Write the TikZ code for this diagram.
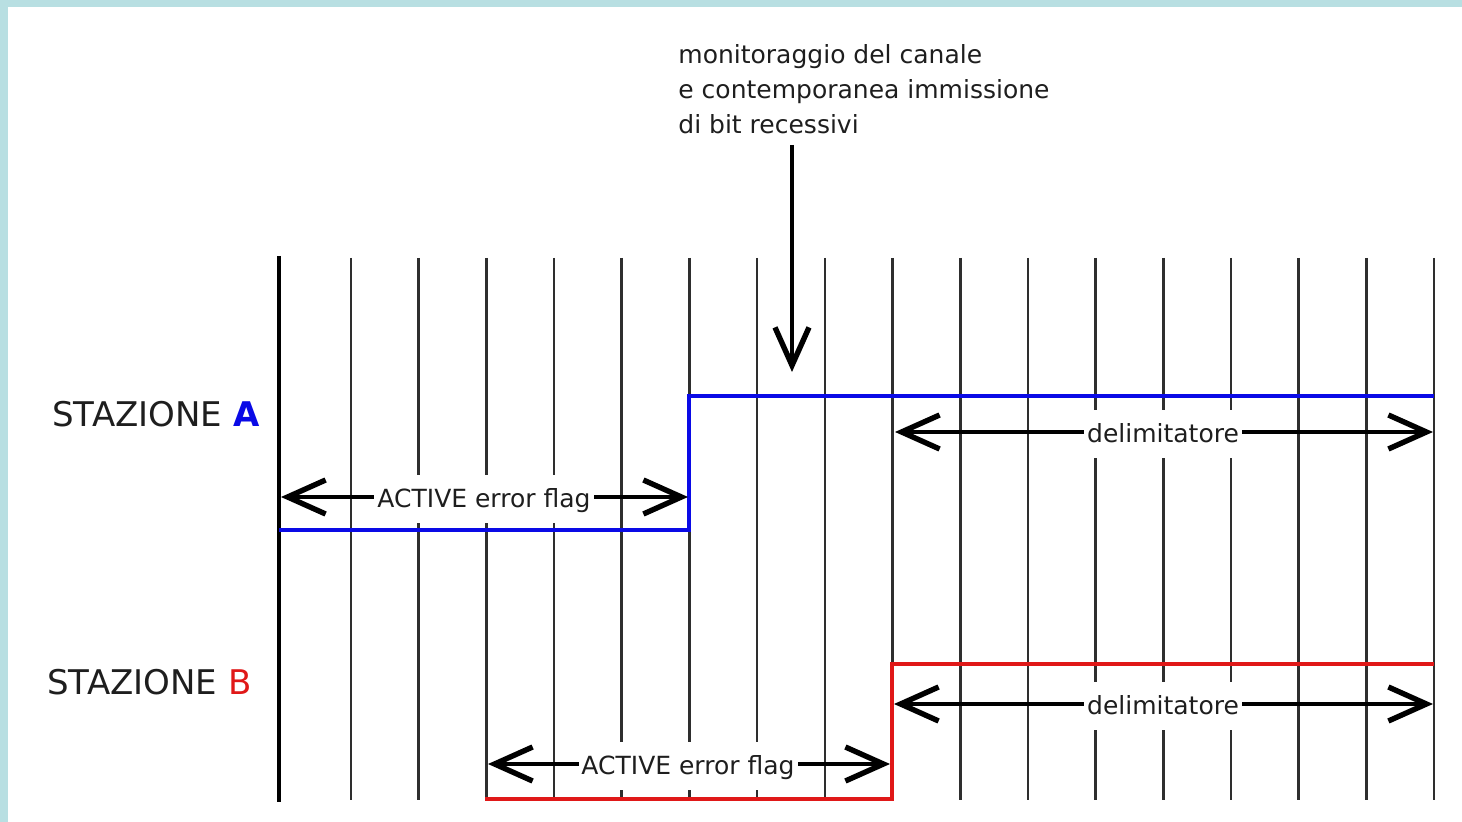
\documentclass[tikz,border=0pt]{standalone}
\usepackage{fontspec}
\setmainfont{DejaVu Sans}
\usetikzlibrary{arrows.meta}
\definecolor{framecol}{HTML}{B8DFE2}
\definecolor{sigA}{HTML}{0A0AE6}
\definecolor{sigB}{HTML}{E01818}
\definecolor{gridcol}{HTML}{2E2E2E}
\definecolor{txtcol}{HTML}{1E1E1E}
\begin{document}
\begin{tikzpicture}[x=0.5pt,y=-0.5pt,
  gridline/.style={draw=gridcol, line width=1.3pt},
  firstline/.style={draw=black, line width=2pt},
  sigline/.style={line width=2pt},
  barb/.tip={Straight Barb[length=19pt,width=17pt,line width=2.7pt]},
  dimarrow/.style={line width=2pt, draw=black, barb-barb},
  notearrow/.style={line width=2pt, draw=black, -barb},
  lbl/.style={fill=white, text=txtcol, font=\fontsize{12.5}{15}\selectfont, inner xsep=1.5pt, inner ysep=6.5pt, text height=10pt, text depth=1pt, anchor=base},
  station/.style={text=txtcol, font=\fontsize{17}{20}\selectfont, anchor=base west, inner sep=0pt}
]
\path[use as bounding box] (0,0) rectangle (1462,822);
\fill[framecol] (0,0) rectangle (1462,822);
\fill[white] (8,7) rectangle (1462,822);

% bit-time grid
\foreach \i in {0,...,16} {
  \draw[gridline] ({351+\i*67.69},258) -- ({351+\i*67.69},800);
}
\draw[firstline] (279,256) -- (279,802);

% signals
\draw[sigA, sigline] (279,530) -- (689,530) -- (689,396) -- (1434,396);
\draw[sigB, sigline] (485,799) -- (892,799) -- (892,664) -- (1434,664);

% dimension arrows
\coordinate (fa1) at (281,497);
\coordinate (fa2) at (688,497);
\coordinate (da1) at (895,432);
\coordinate (da2) at (1433,432);
\coordinate (db1) at (894,704);
\coordinate (db2) at (1433,704);
\coordinate (fb1) at (488,764);
\coordinate (fb2) at (890,764);
\draw[dimarrow] (fa1) -- (fa2);
\draw[dimarrow] (da1) -- (da2);
\draw[dimarrow] (db1) -- (db2);
\draw[dimarrow] (fb1) -- (fb2);

\node[lbl] (la) at (484,508) {ACTIVE error flag};
\node[lbl] (lda) at (1163,443) {delimitatore};
\node[lbl] (ldb) at (1163,715) {delimitatore};
\node[lbl] (lb) at (688,775) {ACTIVE error flag};

% annotation
\node[anchor=north west, align=left, text=txtcol, inner sep=0pt,
      font=\fontsize{12.5}{17.5}\selectfont] (note) at (678,44)
  {monitoraggio del canale\\e contemporanea immissione\\di bit recessivi};
\coordinate (nt) at (792,145);
\coordinate (nh) at (792,372);
\draw[notearrow] (nt) -- (nh);

% station labels
\node[station] (sa) at (52,427) {STAZIONE \textcolor{sigA}{\textbf{A}}};
\node[station] (sb) at (47,695) {STAZIONE \textcolor{sigB}{B}};
\end{tikzpicture}
\end{document}
